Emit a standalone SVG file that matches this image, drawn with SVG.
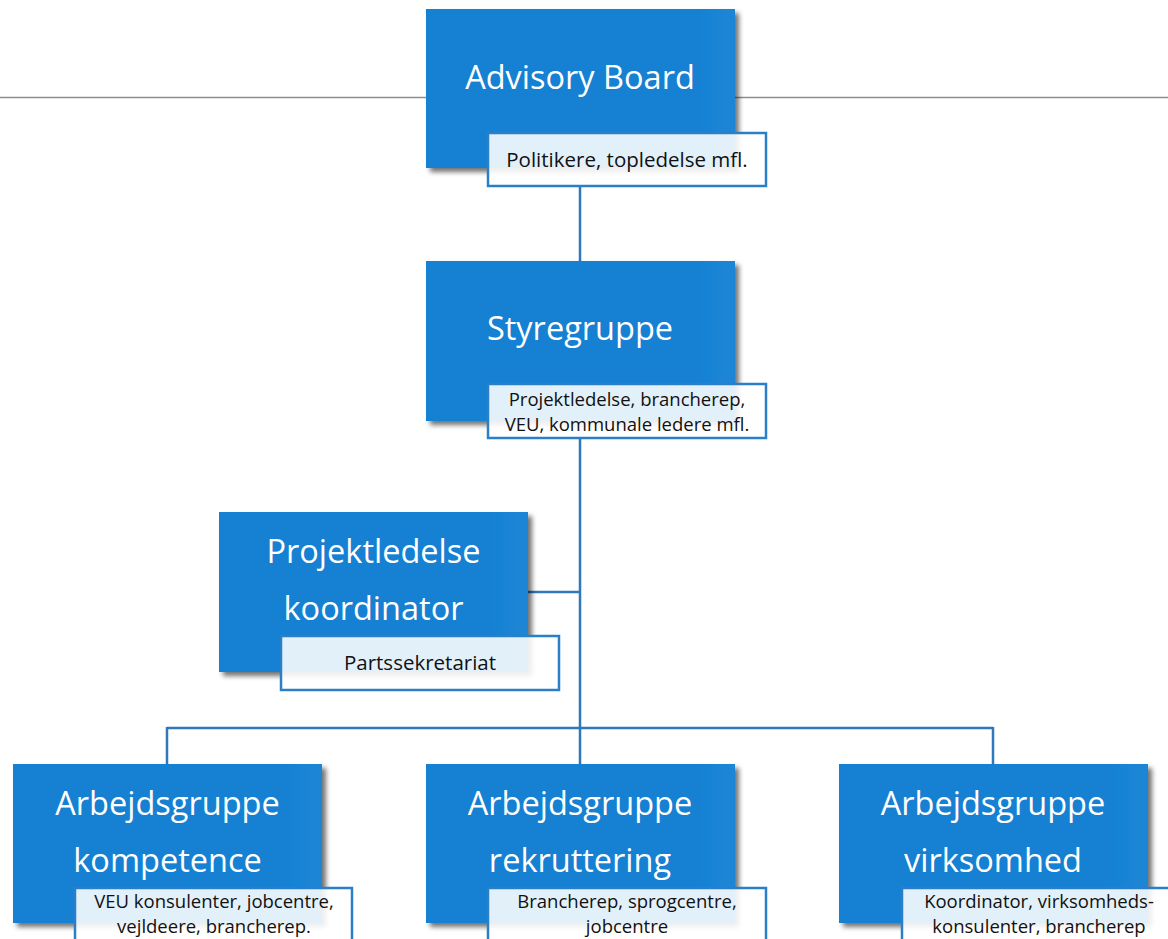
<svg xmlns="http://www.w3.org/2000/svg" width="1168" height="939" viewBox="0 0 1168 939">
<defs>
<filter id="sh" x="-10%" y="-10%" width="125%" height="125%">
<feDropShadow dx="4" dy="4" stdDeviation="2.5" flood-color="#000" flood-opacity="0.55"/>
</filter>
<linearGradient id="bg" x1="0" y1="0" x2="1" y2="0">
<stop offset="0" stop-color="#1580d2"/>
<stop offset="0.85" stop-color="#1580d2"/>
<stop offset="1" stop-color="#1d86d5"/>
</linearGradient>
</defs>
<style>
.box{fill:url(#bg);filter:url(#sh)}
.lab{fill:#fff;fill-opacity:0.88;stroke:#2b7fc9;stroke-width:2.5}
.t{font-family:"Open Sans","Noto Sans",sans-serif;fill:#fff;font-size:32.5px;text-anchor:middle}
.s{font-family:"Open Sans","Noto Sans",sans-serif;fill:#111;font-size:20.5px;text-anchor:middle}
.s2{font-family:"Open Sans","Noto Sans",sans-serif;fill:#111;font-size:18.5px;text-anchor:middle}
.c{stroke:#2e78bb;stroke-width:2.5;fill:none}
</style>
<rect width="1168" height="939" fill="#fff"/>
<line x1="0" y1="97.5" x2="1168" y2="97.5" stroke="#8f8f8f" stroke-width="1.5"/>
<g id="connectors">
<line class="c" x1="580" y1="186" x2="580" y2="262"/>
<line class="c" x1="580" y1="437" x2="580" y2="764"/>
<line class="c" x1="528" y1="592" x2="580" y2="592"/>
<line class="c" x1="167" y1="728" x2="993" y2="728"/>
<line class="c" x1="167" y1="727" x2="167" y2="764"/>
<line class="c" x1="993" y1="727" x2="993" y2="764"/>
</g>
<g id="advisory">
<rect class="box" x="426" y="9" width="309" height="159"/>
<text class="t" x="580" y="89">Advisory Board</text>
<rect class="lab" x="488" y="133" width="278" height="53"/>
<text class="s" x="627" y="167">Politikere, topledelse mfl.</text>
</g>
<g id="styregruppe">
<rect class="box" x="426" y="261" width="309" height="160"/>
<text class="t" x="580" y="340">Styregruppe</text>
<rect class="lab" x="488" y="384" width="278" height="54"/>
<text class="s2" x="627" y="406">Projektledelse, brancherep,</text>
<text class="s2" x="627" y="431">VEU, kommunale ledere mfl.</text>
</g>
<g id="projektledelse">
<rect class="box" x="219" y="512" width="309" height="160"/>
<text class="t" x="373.5" y="563">Projektledelse</text>
<text class="t" x="373.5" y="620">koordinator</text>
<rect class="lab" x="281" y="636" width="278" height="54"/>
<text class="s" x="420" y="670">Partssekretariat</text>
</g>
<g id="kompetence">
<rect class="box" x="13" y="764" width="309" height="159"/>
<text class="t" x="167.5" y="815">Arbejdsgruppe</text>
<text class="t" x="167.5" y="872">kompetence</text>
<rect class="lab" x="75" y="888" width="277" height="60"/>
<text class="s2" x="214" y="908">VEU konsulenter, jobcentre,</text>
<text class="s2" x="214" y="933">vejldeere, brancherep.</text>
</g>
<g id="rekruttering">
<rect class="box" x="426" y="764" width="309" height="159"/>
<text class="t" x="580" y="815">Arbejdsgruppe</text>
<text class="t" x="580" y="872">rekruttering</text>
<rect class="lab" x="488" y="888" width="278" height="60"/>
<text class="s2" x="627" y="908">Brancherep, sprogcentre,</text>
<text class="s2" x="627" y="933">jobcentre</text>
</g>
<g id="virksomhed">
<rect class="box" x="839" y="764" width="309" height="159"/>
<text class="t" x="993" y="815">Arbejdsgruppe</text>
<text class="t" x="993" y="872">virksomhed</text>
<rect class="lab" x="902" y="888" width="278" height="60"/>
<text class="s2" x="1039" y="908">Koordinator, virksomheds-</text>
<text class="s2" x="1039" y="933">konsulenter, brancherep</text>
</g>
</svg>
